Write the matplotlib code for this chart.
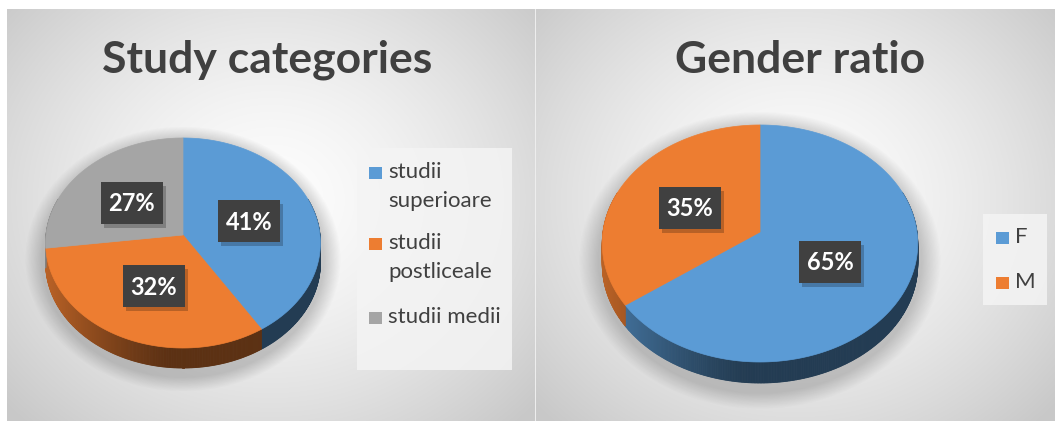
import numpy as np
import matplotlib
matplotlib.use("Agg")
import matplotlib.pyplot as plt
from matplotlib.patches import Polygon, Rectangle
from matplotlib.colors import to_rgb

# ---------------- data ----------------
study_title = "Study categories"
study_labels = ["studii\nsuperioare", "studii\npostliceale", "studii medii"]
study_values = [41, 32, 27]
study_colors = ["#5B9BD5", "#ED7D31", "#A5A5A5"]

gender_title = "Gender ratio"
gender_labels = ["F", "M"]
gender_values = [65, 35]
gender_colors = ["#5B9BD5", "#ED7D31"]

W, H = 1055, 421
fig = plt.figure(figsize=(W / 100, H / 100), dpi=100)
ax = fig.add_axes([0, 0, 1, 1])
ax.set_xlim(0, W)
ax.set_ylim(H, 0)
ax.axis("off")

# ---------------- background ----------------
yy, xx = np.mgrid[0:H, 0:W] + 0.5
bg = np.ones((H, W, 3))
panels = [(7, 535, 9, H), (536, W, 9, H)]
for (x0, x1, y0, y1) in panels:
    cxp = (x0 + x1) / 2
    cyp = 200
    m = (xx >= x0) & (xx < x1) & (yy >= y0) & (yy < y1)
    r = np.sqrt(((xx - cxp) / ((x1 - x0) / 2)) ** 2 + ((yy - cyp) / 230) ** 2)
    v = 253 - 53 * np.clip(r / 1.35, 0, 1) ** 1.5
    for c in range(3):
        bg[..., c] = np.where(m, v / 255, bg[..., c])
sep = (xx >= 535) & (xx < 536.5) & (yy >= 9)
for c in range(3):
    bg[..., c] = np.where(sep, 0.93, bg[..., c])
ax.imshow(bg, extent=(0, W, H, 0), zorder=0, interpolation="bilinear")


# ---------------- 3D pie ----------------
def proj(theta, cx, cy, rx, a, k, dz=0.0):
    u = np.sin(theta)
    v = np.cos(theta)
    den = 1 + k * v
    return cx + rx * u / den, cy - a * v / den + dz


def shadow(cx, cy, rx, ry_top, ry_bot, depth):
    ecy = cy + (ry_bot - ry_top) / 2 + depth * 0.8
    ery = (ry_top + ry_bot) / 2 + depth / 2
    rho = np.sqrt(((xx - cx) / (rx * 1.03)) ** 2 + ((yy - ecy) / (ery * 1.03)) ** 2)
    alpha = 0.30 * np.clip((1.12 - rho) / 0.12, 0, 1)
    img = np.zeros((H, W, 4))
    img[..., :3] = 0.35
    img[..., 3] = alpha
    ax.imshow(img, extent=(0, W, H, 0), zorder=1, interpolation="bilinear")


def pie3d(values, colors, cx, cy, rx, ry_top, ry_bot, depth, label_pos=0.5):
    k = (ry_bot - ry_top) / (ry_bot + ry_top)
    a = ry_top * (1 + k)
    shadow(cx, cy, rx, ry_top, ry_bot, depth)
    total = float(sum(values))
    starts = np.cumsum([0] + list(values))[:-1] / total * 2 * np.pi
    ends = np.cumsum(values) / total * 2 * np.pi
    xl = cx - rx
    # sides
    for s, e, col in zip(starts, ends, colors):
        base = np.array(to_rgb(col))
        th = np.linspace(s, e, max(int((e - s) * 120), 4))
        for t0, t1 in zip(th[:-1], th[1:]):
            if np.cos((t0 + t1) / 2) > 0.35:
                continue
            x0_, y0_ = proj(t0, cx, cy, rx, a, k)
            x1_, y1_ = proj(t1, cx, cy, rx, a, k)
            tpos = ((x0_ + x1_) / 2 - xl) / (2 * rx)
            f = 0.39 + (0.78 - 0.39) * np.clip(1 - tpos / 0.45, 0, 1) ** 1.3
            colr = np.clip(base * f, 0, 1)
            poly = Polygon([(x0_, y0_), (x1_, y1_), (x1_, y1_ + depth), (x0_, y0_ + depth)],
                           closed=True, facecolor=colr, edgecolor=colr, lw=0.6, zorder=2)
            ax.add_patch(poly)
    # tops
    for s, e, col in zip(starts, ends, colors):
        th = np.linspace(s, e, 200)
        px, py = proj(th, cx, cy, rx, a, k)
        pts = [(cx, cy)] + list(zip(px, py))
        ax.add_patch(Polygon(pts, closed=True, facecolor=col, edgecolor=col, lw=0.5, zorder=3))
    # data labels
    for s, e, v in zip(starts, ends, values):
        mid = (s + e) / 2
        lx = cx + label_pos * rx * np.sin(mid)
        ly = cy - label_pos * (ry_top if np.cos(mid) > 0 else ry_bot) * np.cos(mid)
        bw, bh = 62, 42
        ax.add_patch(Rectangle((lx - bw / 2 + 3, ly - bh / 2 + 4), bw, bh,
                               facecolor="#000000", alpha=0.22, lw=0, zorder=4))
        ax.add_patch(Rectangle((lx - bw / 2, ly - bh / 2), bw, bh,
                               facecolor="#404040", lw=0, zorder=5))
        ax.text(lx, ly + 1, f"{v}%", color="white", fontsize=17, fontweight="bold",
                family="Lato", ha="center", va="center", zorder=6)


def legend(labels, colors, box, sq_x, sq_ys, line_h):
    x0, y0, x1, y1 = box
    ax.add_patch(Rectangle((x0, y0), x1 - x0, y1 - y0, facecolor="#f4f4f4",
                           alpha=0.85, lw=0, zorder=2))
    for lab, col, sy in zip(labels, colors, sq_ys):
        ax.add_patch(Rectangle((sq_x, sy - 6), 13, 12, facecolor=col, lw=0, zorder=3))
        for i, ln in enumerate(lab.split("\n")):
            ax.text(sq_x + 19, sy - 1 + i * line_h, ln, color="#404040", fontsize=16,
                    family="Lato", ha="left", va="center", zorder=3)


# Panel 1
ax.text(267, 73, study_title, fontsize=32, fontweight="bold", family="Lato",
        color="#404040", ha="center", va="baseline", zorder=3)
pie3d(study_values, study_colors, cx=183, cy=235, rx=137, ry_top=97, ry_bot=113, depth=20)
legend(study_labels, study_colors, (357, 148, 512, 370), 369, [173, 244, 318], 29)

# Panel 2
ax.text(800, 73, gender_title, fontsize=32, fontweight="bold", family="Lato",
        color="#404040", ha="center", va="baseline", zorder=3)
pie3d(gender_values, gender_colors, cx=760, cy=232, rx=157, ry_top=107, ry_bot=130, depth=21)
legend(gender_labels, gender_colors, (983, 214, 1047, 305), 996, [238, 283], 29)

fig.savefig("out.png", dpi=100)
